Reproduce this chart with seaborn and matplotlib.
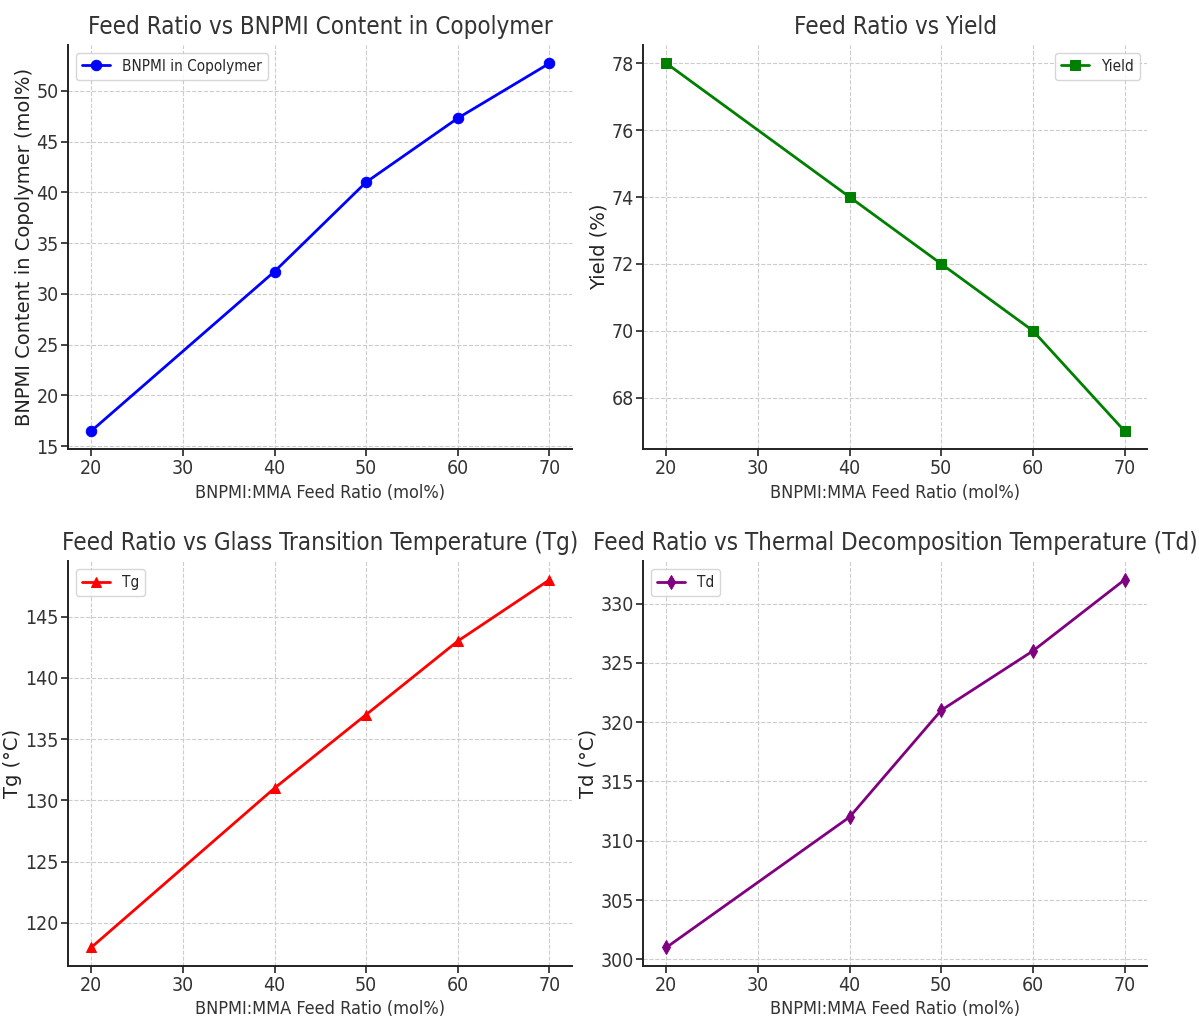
import matplotlib
matplotlib.use('Agg')
import matplotlib.pyplot as plt
import seaborn as sns
import pandas as pd

# Data
feed_ratio = [20, 40, 50, 60, 70]
bnpmi_content = [16.5, 32.2, 41.0, 47.3, 52.7]
yield_pct = [78, 74, 72, 70, 67]
tg_values = [118, 131, 137, 143, 148]
td_values = [301, 312, 321, 326, 332]

sns.set_theme(style="whitegrid")
plt.rcParams.update({
    'font.family': ['DejaVu Sans'],
    'font.stretch': 'condensed',
    'axes.edgecolor': '#222222',
    'axes.linewidth': 1.4,
    'grid.linestyle': '--',
    'grid.color': '#cccccc',
    'grid.linewidth': 0.8,
    'xtick.bottom': True,
    'ytick.left': True,
    'xtick.color': '#222222',
    'ytick.color': '#222222',
    'xtick.labelcolor': '#333333',
    'ytick.labelcolor': '#333333',
})

panels = [
    (bnpmi_content, 'BNPMI in Copolymer', 'blue', 'o',
     'BNPMI Content in Copolymer (mol%)', 'Feed Ratio vs BNPMI Content in Copolymer', 'upper left'),
    (yield_pct, 'Yield', 'green', 's',
     'Yield (%)', 'Feed Ratio vs Yield', 'upper right'),
    (tg_values, 'Tg', 'red', '^',
     'Tg (°C)', 'Feed Ratio vs Glass Transition Temperature (Tg)', 'upper left'),
    (td_values, 'Td', 'purple', 'd',
     'Td (°C)', 'Feed Ratio vs Thermal Decomposition Temperature (Td)', 'upper left'),
]

fig, axes = plt.subplots(2, 2, figsize=(11.99, 10.21), dpi=100)
fig.subplots_adjust(left=0.057, right=0.957, top=0.956, bottom=0.054,
                    wspace=0.141, hspace=0.277)

for ax, (vals, label, color, marker, ylabel, title, loc) in zip(axes.flat, panels):
    df = pd.DataFrame({'x': feed_ratio, 'y': vals})
    sns.lineplot(data=df, x='x', y='y', ax=ax, color=color, marker=marker,
                 markersize=7.5, markeredgecolor=color, linewidth=2, label=label)
    ax.set_title(title, fontsize=17.3, color='#333333', pad=8)
    ax.set_xlabel('BNPMI:MMA Feed Ratio (mol%)', fontsize=13, color='#333333')
    ax.set_ylabel(ylabel, fontsize=14, color='#222222', fontstretch='normal',
                  labelpad=2)
    ax.tick_params(axis='both', labelsize=14, length=5, width=1.2, pad=2)
    ax.spines['top'].set_visible(False)
    ax.spines['right'].set_visible(False)
    ax.legend(loc=loc, fontsize=11, frameon=True, handlelength=1.8)
    ax.set_xticks([20, 30, 40, 50, 60, 70])

plt.savefig('out.png', dpi=100)
